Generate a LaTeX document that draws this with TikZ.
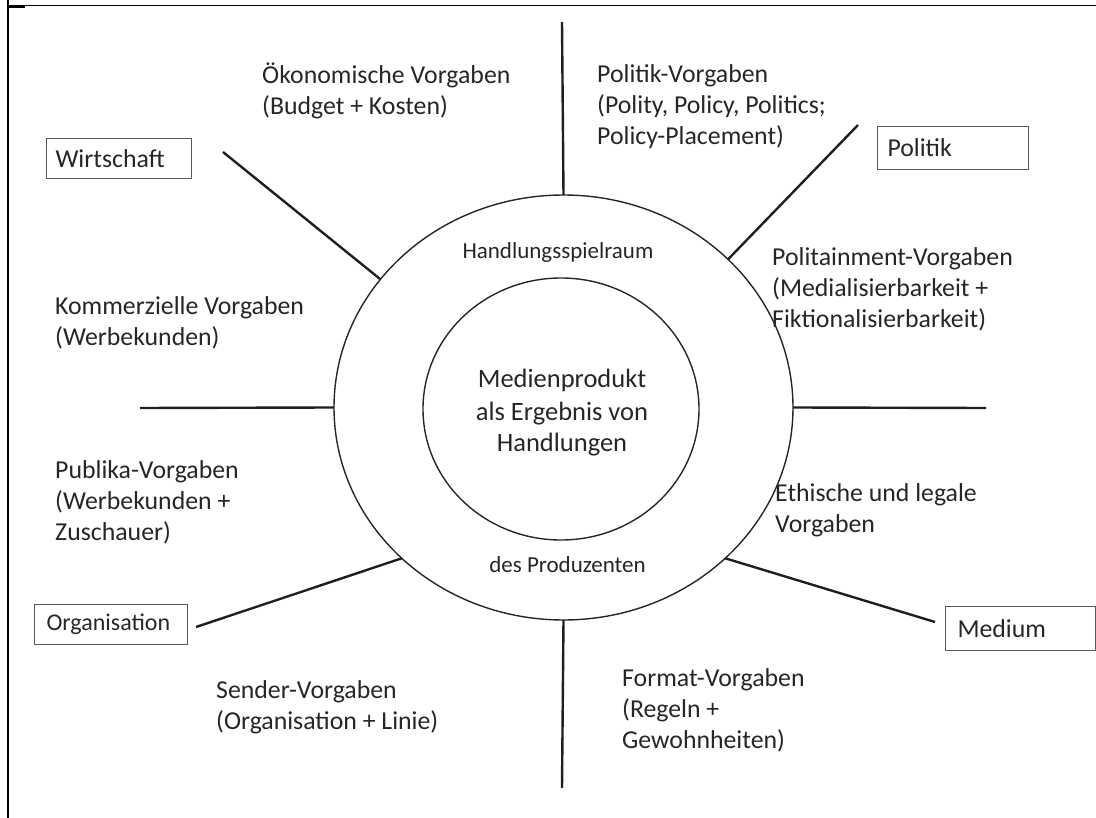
\documentclass[tikz,border=0pt]{standalone}
\usepackage{fontspec}
\setmainfont{Carlito}
\usetikzlibrary{shapes.geometric}
\begin{document}
\begin{tikzpicture}[x=1pt,y=-1pt,
  spoke/.style={line width=2.4pt,draw=black!88},
  ring/.style={ellipse,draw=black!85,line width=1.4pt,inner sep=0pt,outer sep=0pt},
  field/.style={draw=black!65,line width=1pt,anchor=north west,align=left,
    inner ysep=0pt,font=\fontsize{25.8}{31}\selectfont,text=black!85},
  label/.style={font=\fontsize{25.8}{31}\selectfont,align=left,anchor=base west,
    inner sep=0pt,text=black!85},
  ringtext/.style={font=\fontsize{23}{28}\selectfont,anchor=base,inner sep=0pt,text=black!85}]
\useasboundingbox (0,0) rectangle (1096,818);

% frame edges
\draw[line width=1.8pt] (8,0) -- (8,818);
\draw[line width=1pt] (8,6) -- (1096,6);
\draw[line width=2pt] (8,7) -- (25,7);

% the two rings
\node[ring,minimum width=459pt,minimum height=425pt] (outer) at (563.5,407.5) {};
\node[ring,minimum width=276pt,minimum height=262pt] (inner) at (561,409) {};

% centre texts (anchor = baseline of the last line)
\node[font=\fontsize{26.5}{32}\selectfont,align=center,inner sep=0pt,text=black!85,anchor=base]
  (prod) at (562,452) {Medienprodukt\\als Ergebnis von\\Handlungen};
\node[ringtext] (spiel) at (558,259) {Handlungsspielraum};
\node[ringtext] (prodz) at (567.5,572) {des Produzenten};

% free ends of the spokes
\coordinate (sTop) at (562,22);
\coordinate (sBot) at (562,788);
\coordinate (sLeft) at (140,408);
\coordinate (sRight) at (986,408);
\coordinate (sUL) at (223,152);
\coordinate (sUR) at (858,125);
\coordinate (sLL) at (196,627);
\coordinate (sLR) at (935,622);

\draw[spoke] (sTop) -- (outer.90);
\draw[spoke] (sBot) -- (outer.270);
\draw[spoke] (sLeft) -- (outer.180);
\draw[spoke] (sRight) -- (outer.0);
\draw[spoke] (sUL) -- (outer.145.6);
\draw[spoke] (sUR) -- (outer.42.4);
\draw[spoke] (sLL) -- (outer.223);
\draw[spoke] (sLR) -- (outer.317.2);

% domain boxes
\node[field,minimum width=145pt,minimum height=40pt,text width=127pt,inner xsep=9pt]
  (wirt) at (46,138) {Wirtschaft};
\node[field,minimum width=151pt,minimum height=43pt,text width=131pt,inner xsep=10pt]
  (pol) at (877,126) {Politik};
\node[field,minimum width=153pt,minimum height=40pt,text width=129pt,inner xsep=12pt,
  font=\fontsize{24}{29}\selectfont] (org) at (34,604) {Organisation};
\node[field,minimum width=150pt,minimum height=44pt,text width=126pt,inner xsep=12pt]
  (med) at (945,606) {Medium};

% requirement labels (anchor = baseline of the last line)
\node[label] (oek) at (262,115) {Ökonomische Vorgaben\\(Budget + Kosten)};
\node[label] (polv) at (597,145) {Politik-Vorgaben\\(Polity, Policy, Politics;\\Policy-Placement)};
\node[label] (tain) at (772,328) {Politainment-Vorgaben\\(Medialisierbarkeit +\\Fiktionalisierbarkeit)};
\node[label] (komm) at (55,346) {Kommerzielle Vorgaben\\(Werbekunden)};
\node[label] (publ) at (55,540) {Publika-Vorgaben\\(Werbekunden +\\Zuschauer)};
\node[label] (eth) at (775,532) {Ethische und legale\\Vorgaben};
\node[label] (send) at (216,729) {Sender-Vorgaben\\(Organisation + Linie)};
\node[label] (form) at (622,748) {Format-Vorgaben\\(Regeln +\\Gewohnheiten)};
\end{tikzpicture}
\end{document}
